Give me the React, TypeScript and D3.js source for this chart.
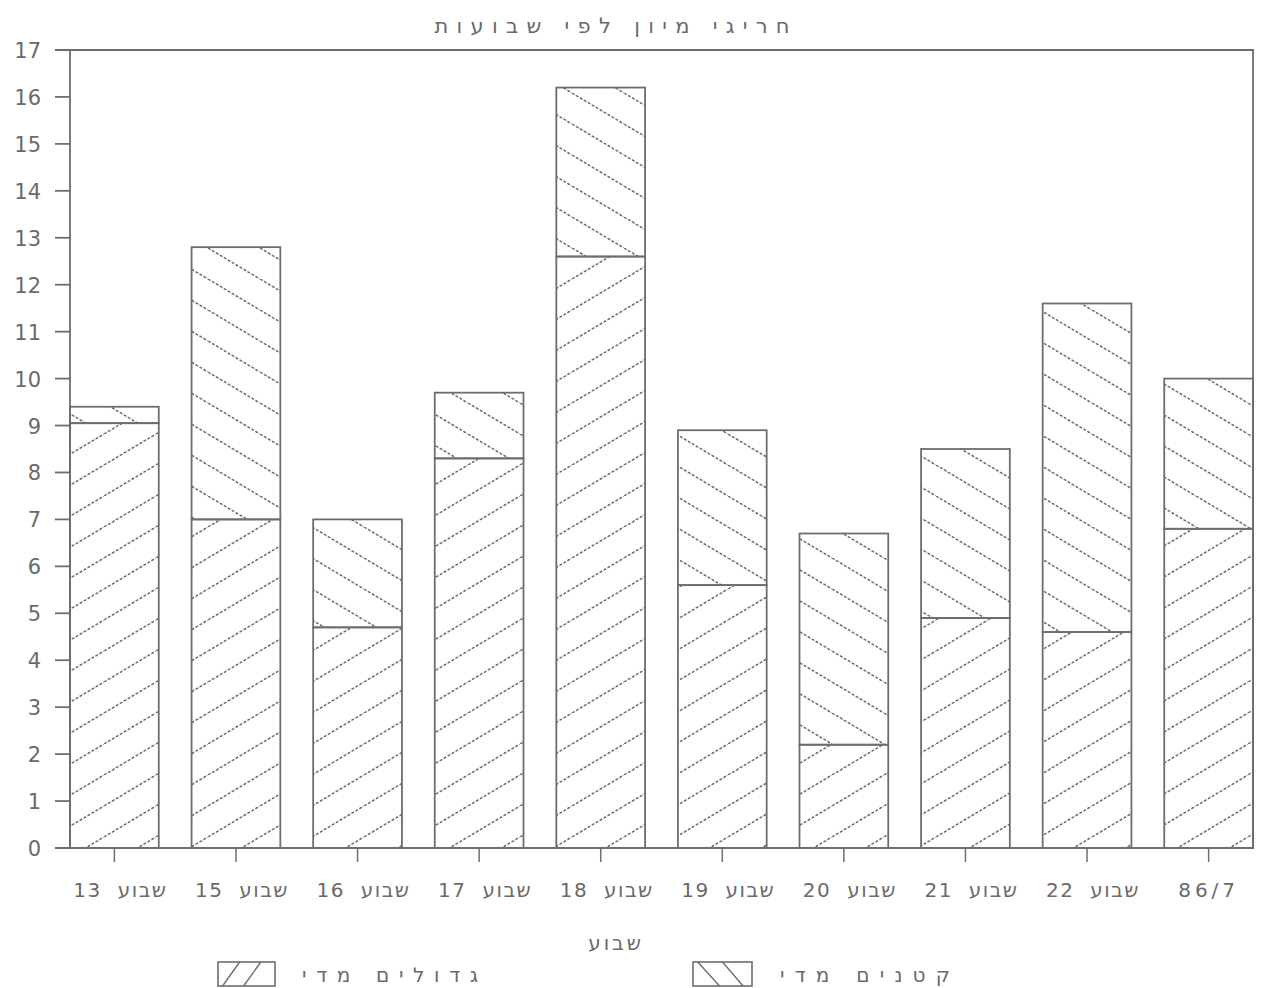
import React from "react";
import * as d3 from "d3";

const TITLE = "חריגי מיון לפי שבועות";
const X_TITLE = "שבוע";
const categories = ["שבוע 13", "שבוע 15", "שבוע 16", "שבוע 17", "שבוע 18", "שבוע 19", "שבוע 20", "שבוע 21", "שבוע 22", "86/7"];
const tooLarge = [9.05, 7.0, 4.7, 8.3, 12.6, 5.6, 2.2, 4.9, 4.6, 6.8];
const tooSmall = [0.35, 5.8, 2.3, 1.4, 3.6, 3.3, 4.5, 3.6, 7.0, 3.2];
const seriesKeys = ["large", "small"];
const seriesNames = ["גדולים מדי", "קטנים מדי"];
const yTicks = d3.range(0, 18);

const INK = "#6d6d6d";
const TXT = "#6a6a6a";
const FONT = "'DejaVu Sans', sans-serif";

export default function App() {
  const width = 1266, height = 988;
  const left = 70, right = 1253, top = 50, bottom = 848;
  const x = d3.scaleBand<string>().domain(categories).range([left, right]).paddingInner(0.27).paddingOuter(0);
  const y = d3.scaleLinear().domain([0, 17]).range([bottom, top]);
  const rows = categories.map((c, i) => ({ cat: c, large: tooLarge[i], small: tooSmall[i] }));
  const stacked = d3.stack<any>().keys(seriesKeys)(rows);

  const PW = 52, PH = 31;
  const patIds = ["hatchFwd", "hatchBack"];

  const legend = [
    { x: 218, w: 57, tcx: 390, tl: 176, fwd: true },
    { x: 693, w: 59, tcx: 865, tl: 170, fwd: false },
  ];
  const ly = 962, lh = 24;

  return (
    <svg width={width} height={height} style={{ position: "absolute", left: 0, top: 0, background: "#fff" }}>
      <defs>
        <pattern id="hatchFwd" patternUnits="userSpaceOnUse" width={PW} height={PH}>
          <g stroke={INK} strokeWidth={1.5} strokeDasharray="3 1.6" fill="none">
            <line x1={0} y1={PH} x2={PW} y2={0} />
            <line x1={-PW} y1={PH} x2={0} y2={0} />
            <line x1={PW} y1={PH} x2={2 * PW} y2={0} />
          </g>
        </pattern>
        <pattern id="hatchBack" patternUnits="userSpaceOnUse" width={PW} height={PH}>
          <g stroke={INK} strokeWidth={1.5} strokeDasharray="3 1.6" fill="none">
            <line x1={0} y1={0} x2={PW} y2={PH} />
            <line x1={-PW} y1={0} x2={0} y2={PH} />
            <line x1={PW} y1={0} x2={2 * PW} y2={PH} />
          </g>
        </pattern>
      </defs>

      <text x={612} y={33} textAnchor="middle" fontFamily={FONT} fontSize={21} fill={TXT}
        textLength={355} lengthAdjust="spacing" direction="rtl"
        style={{ direction: "rtl" }}>{TITLE}</text>

      {stacked.map((s, si) => (
        <g key={s.key}>
          {s.map((d: any, i: number) => (
            <rect key={i}
              x={x(categories[i])}
              y={y(d[1])}
              width={x.bandwidth()}
              height={y(d[0]) - y(d[1])}
              fill={`url(#${patIds[si]})`}
              stroke={INK}
              strokeWidth={1.8} />
          ))}
        </g>
      ))}

      <path d={`M55,${top}H${right}V${bottom}H55`} fill="none" stroke={INK} strokeWidth={1.8} />
      <line x1={left} y1={top} x2={left} y2={bottom} stroke={INK} strokeWidth={1.8} />

      {yTicks.map((t) => (
        <g key={t}>
          <line x1={55} x2={left} y1={y(t)} y2={y(t)} stroke={INK} strokeWidth={1.8} />
          <text x={41} y={y(t) + 8} textAnchor="end" fontFamily={FONT} fontSize={21} fill={TXT}>{t}</text>
        </g>
      ))}

      {categories.map((c) => {
        const cx = x(c)! + x.bandwidth() / 2;
        const isWeek = c.includes(" ");
        return (
          <g key={c}>
            <line x1={cx} x2={cx} y1={bottom} y2={bottom + 14} stroke={INK} strokeWidth={1.5} />
            <text x={isWeek ? cx + 6 : cx} y={897} textAnchor="middle" fontFamily={FONT} fontSize={20} fill={TXT}
              letterSpacing={isWeek ? 1.5 : 4} wordSpacing={8}
              style={{ direction: isWeek ? "rtl" : "ltr" }}>{c}</text>
          </g>
        );
      })}

      <text x={616} y={950} textAnchor="middle" fontFamily={FONT} fontSize={20} fill={TXT}
        letterSpacing={3} style={{ direction: "rtl" }}>{X_TITLE}</text>

      {legend.map((l, i) => (
        <g key={i}>
          <rect x={l.x} y={ly} width={l.w} height={lh} fill="#fff" stroke={INK} strokeWidth={1.6} />
          {l.fwd ? (
            <g stroke={INK} strokeWidth={1.4}>
              <line x1={l.x + l.w * 0.08} y1={ly + lh} x2={l.x + l.w * 0.38} y2={ly} />
              <line x1={l.x + l.w * 0.45} y1={ly + lh} x2={l.x + l.w * 0.75} y2={ly} />
            </g>
          ) : (
            <g stroke={INK} strokeWidth={1.4}>
              <line x1={l.x + l.w * 0.08} y1={ly} x2={l.x + l.w * 0.45} y2={ly + lh} />
              <line x1={l.x + l.w * 0.5} y1={ly} x2={l.x + l.w * 0.85} y2={ly + lh} />
            </g>
          )}
          <text x={l.tcx} y={ly + 20} textAnchor="middle" fontFamily={FONT} fontSize={20} fill={TXT}
            textLength={l.tl} lengthAdjust="spacing"
            style={{ direction: "rtl" }}>{seriesNames[i]}</text>
        </g>
      ))}
    </svg>
  );
}
